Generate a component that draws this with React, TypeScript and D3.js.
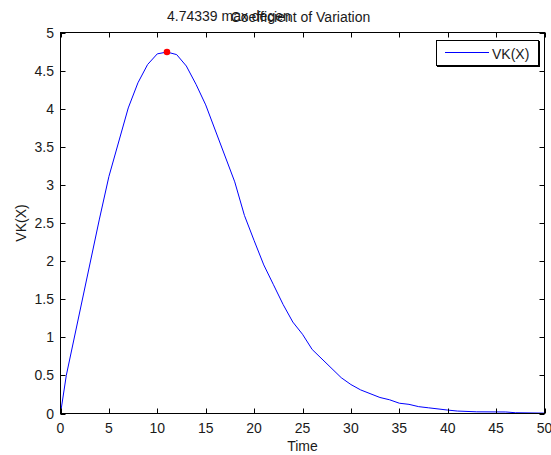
import React from "react";
import * as d3 from "d3";

const times = [0, 0.6, 4, 5, 7, 8, 9, 10, 11, 12, 13, 14, 15, 18, 19, 20, 21, 22, 23, 24, 25, 26, 29, 30, 31, 33, 34, 35, 36, 37, 38, 40, 41, 43, 46, 47, 50];
const vk = [0, 0.5, 2.54, 3.11, 4.01, 4.34, 4.58, 4.72, 4.74339, 4.71, 4.56, 4.32, 4.05, 3.04, 2.6, 2.27, 1.95, 1.69, 1.43, 1.2, 1.04, 0.84, 0.47, 0.38, 0.31, 0.21, 0.18, 0.135, 0.12, 0.09, 0.075, 0.045, 0.032, 0.022, 0.02, 0.01, 0.005];
const xTicks = [0, 5, 10, 15, 20, 25, 30, 35, 40, 45, 50];
const yTicks = [0, 0.5, 1, 1.5, 2, 2.5, 3, 3.5, 4, 4.5, 5];
const peakTime = 11;
const peakValue = 4.74339;
const title = "Coefficient of Variation";
const peakLabel = "4.74339 max degen";
const xLabel = "Time";
const yLabel = "VK(X)";
const legendLabel = "VK(X)";

const W = 551;
const H = 455;
const L = 60.5, R = 544.5, T = 32.5, B = 413.5;
const FONT = "'Liberation Sans', Arial, Helvetica, sans-serif";
const TXT = "#1a1a1a";
const FS = 14;

export default function App() {
  const x = d3.scaleLinear().domain([0, 50]).range([L, R]);
  const y = d3.scaleLinear().domain([0, 5]).range([B, T]);
  const pts = times.map((t, i) => [t, vk[i]] as [number, number]);
  const line = d3.line<[number, number]>().x(d => x(d[0])).y(d => y(d[1]));
  const tickLen = 5;
  const fmt = (v: number) => String(v);
  return (
    <svg width={W} height={H} style={{ position: "absolute", left: 0, top: 0, background: "#fff" }} fontFamily={FONT}>
      <rect x={0} y={0} width={W} height={H} fill="#fff" />
      {/* curve */}
      <path d={line(pts) || ""} fill="none" stroke="#0000ff" strokeWidth={1} />
      <circle cx={x(peakTime)} cy={y(peakValue)} r={3.3} fill="#ff0000" />
      {/* axes box */}
      <rect x={L} y={T} width={R - L} height={B - T} fill="none" stroke="#000" strokeWidth={1} />
      {xTicks.map(t => (
        <g key={"x" + t}>
          <line x1={Math.round(x(t)) + 0.5} x2={Math.round(x(t)) + 0.5} y1={B} y2={B - tickLen} stroke="#000" />
          <line x1={Math.round(x(t)) + 0.5} x2={Math.round(x(t)) + 0.5} y1={T} y2={T + tickLen} stroke="#000" />
          <text x={x(t)} y={433} textAnchor="middle" fontSize={FS} fill={TXT}>{fmt(t)}</text>
        </g>
      ))}
      {yTicks.map(v => (
        <g key={"y" + v}>
          <line x1={L} x2={L + tickLen} y1={Math.round(y(v)) + 0.5} y2={Math.round(y(v)) + 0.5} stroke="#000" />
          <line x1={R} x2={R - tickLen} y1={Math.round(y(v)) + 0.5} y2={Math.round(y(v)) + 0.5} stroke="#000" />
          <text x={54} y={y(v) + 5} textAnchor="end" fontSize={FS} fill={TXT}>{fmt(v)}</text>
        </g>
      ))}
      {/* labels */}
      <text x={(L + R) / 2} y={451} textAnchor="middle" fontSize={FS} fill={TXT}>{xLabel}</text>
      <text transform={`translate(26,${(T + B) / 2}) rotate(-90)`} textAnchor="middle" fontSize={FS} fill={TXT}>{yLabel}</text>
      <text x={(L + R) / 2 - 2} y={22} textAnchor="middle" fontSize={FS} fill={TXT}>{title}</text>
      <text x={x(peakTime)} y={21} textAnchor="start" fontSize={FS} fill={TXT}>{peakLabel}</text>
      {/* legend */}
      <g>
        <rect x={436.5} y={40.5} width={102} height={25} fill="#fff" stroke="#000" strokeWidth={1} />
        <line x1={539.5} x2={539.5} y1={41} y2={67} stroke="#000" />
        <line x1={437} x2={540} y1={66.5} y2={66.5} stroke="#000" />
        <line x1={445} x2={489} y1={52.5} y2={52.5} stroke="#0000ff" strokeWidth={1} />
        <text x={492} y={58.5} fontSize={FS} fill={TXT}>{legendLabel}</text>
      </g>
    </svg>
  );
}
